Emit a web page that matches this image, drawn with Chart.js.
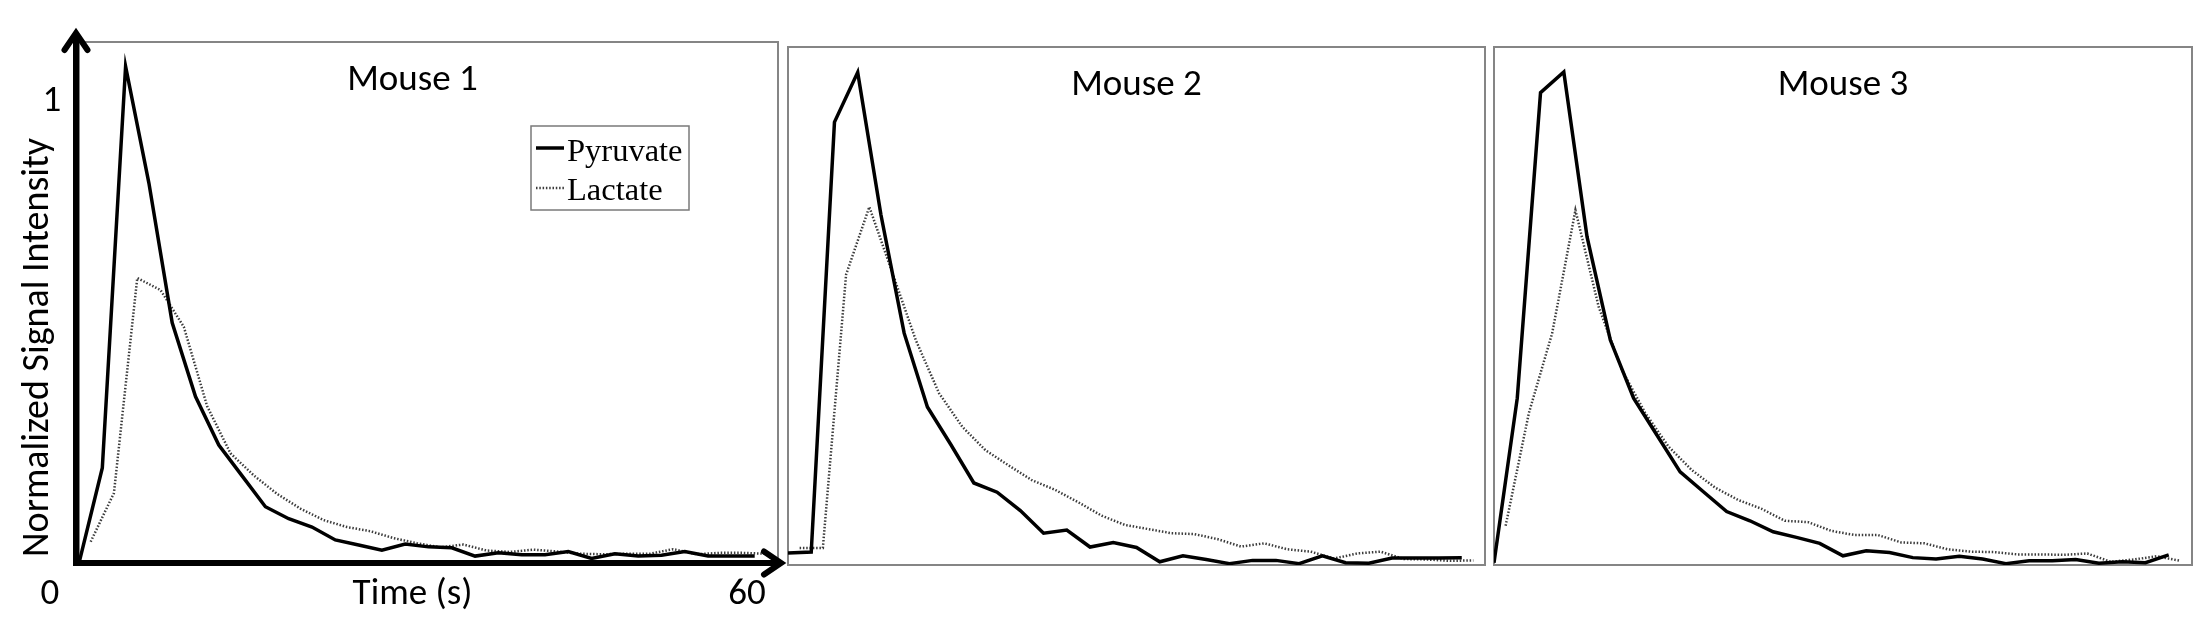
<!DOCTYPE html>
<html>
<head>
<meta charset="utf-8">
<script src="https://cdn.jsdelivr.net/npm/chart.js@4.4.1/dist/chart.umd.min.js"></script>
<style>
  html, body { margin: 0; padding: 0; background: #ffffff; width: 2196px; height: 640px; overflow: hidden; }
  canvas { position: absolute; left: 0; top: 0; }
</style>
</head>
<body>
<canvas id="panel1" width="2196" height="640"></canvas>
<canvas id="panel2" width="2196" height="640"></canvas>
<canvas id="panel3" width="2196" height="640"></canvas>
<script>
// ---------------- DATA ----------------
const panelTitles = ['Mouse 1', 'Mouse 2', 'Mouse 3'];
const seriesNames = ['Pyruvate', 'Lactate'];
const xAxisTitle = 'Time (s)';
const yAxisTitle = 'Normalized Signal Intensity';
const xTickLabels = ['0', '60'];
const xTickValues = [0, 60];
const yTickLabels = ['1'];
const yTickValues = [1];

const pyruvateTimes = [0, 2, 4, 6, 8, 10, 12, 14, 16, 18, 20, 22, 24, 26, 28, 30, 32, 34, 36, 38, 40, 42, 44, 46, 48, 50, 52, 54, 56, 58];
const lactateTimes  = [1, 3, 5, 7, 9, 11, 13, 15, 17, 19, 21, 23, 25, 27, 29, 31, 33, 35, 37, 39, 41, 43, 45, 47, 49, 51, 53, 55, 57, 59];

const mouse1Pyruvate = [0.000, 0.206, 1.077, 0.824, 0.521, 0.361, 0.256, 0.189, 0.122, 0.096, 0.078, 0.050, 0.039, 0.028, 0.041, 0.035, 0.033, 0.015, 0.022, 0.018, 0.018, 0.025, 0.010, 0.020, 0.015, 0.017, 0.025, 0.015, 0.015, 0.015];
const mouse1Lactate  = [0.046, 0.152, 0.618, 0.592, 0.512, 0.340, 0.238, 0.190, 0.150, 0.118, 0.093, 0.078, 0.069, 0.054, 0.043, 0.034, 0.040, 0.027, 0.024, 0.029, 0.025, 0.020, 0.019, 0.020, 0.020, 0.030, 0.019, 0.022, 0.022, 0.020];

const mouse2Pyruvate = [0.026, 0.028, 0.961, 1.069, 0.760, 0.503, 0.343, 0.262, 0.178, 0.158, 0.118, 0.069, 0.076, 0.039, 0.049, 0.038, 0.007, 0.020, 0.012, 0.003, 0.010, 0.010, 0.003, 0.020, 0.005, 0.004, 0.015, 0.015, 0.015, 0.016];
const mouse2Lactate  = [0.037, 0.037, 0.630, 0.777, 0.633, 0.488, 0.373, 0.300, 0.249, 0.216, 0.184, 0.163, 0.136, 0.107, 0.087, 0.078, 0.069, 0.067, 0.056, 0.040, 0.047, 0.034, 0.029, 0.014, 0.025, 0.029, 0.013, 0.012, 0.009, 0.010];

const mouse3Pyruvate = [0.005, 0.362, 1.025, 1.070, 0.712, 0.488, 0.362, 0.282, 0.202, 0.159, 0.116, 0.096, 0.072, 0.060, 0.047, 0.020, 0.031, 0.027, 0.016, 0.013, 0.019, 0.013, 0.003, 0.009, 0.009, 0.012, 0.004, 0.007, 0.005, 0.022];
const mouse3Lactate  = [0.085, 0.330, 0.503, 0.770, 0.560, 0.423, 0.330, 0.257, 0.206, 0.168, 0.141, 0.122, 0.096, 0.093, 0.074, 0.065, 0.065, 0.049, 0.047, 0.034, 0.029, 0.028, 0.023, 0.023, 0.022, 0.025, 0.007, 0.012, 0.019, 0.009];

// ---------------- LAYOUT / STYLE ----------------
const W = 2196, H = 640;
const panels = [
  { id: 'panel1', rect: { left: 79,   top: 42, right: 778,  bottom: 563 }, yMax: 1.13,  titleShift: -16, pyr: mouse1Pyruvate, lac: mouse1Lactate, decorated: true },
  { id: 'panel2', rect: { left: 788,  top: 47, right: 1485, bottom: 565 }, yMax: 1.124, titleShift: 0,   pyr: mouse2Pyruvate, lac: mouse2Lactate, decorated: false },
  { id: 'panel3', rect: { left: 1494, top: 47, right: 2192, bottom: 565 }, yMax: 1.124, titleShift: 0,   pyr: mouse3Pyruvate, lac: mouse3Lactate, decorated: false }
];
const SANS = 'Carlito, Lato, "Open Sans", sans-serif';
const SERIF = '"Liberation Serif", "Times New Roman", serif';

const framePlugin = {
  id: 'frame',
  beforeDatasetsDraw(chart, args, opts) {
    const a = chart.chartArea, ctx = chart.ctx;
    ctx.save();
    ctx.strokeStyle = '#858585';
    ctx.lineWidth = 2;
    ctx.strokeRect(a.left, a.top, a.right - a.left, a.bottom - a.top);
    ctx.restore();
  },
  afterDraw(chart, args, opts) {
    const a = chart.chartArea, ctx = chart.ctx;
    ctx.save();
    ctx.fillStyle = '#000';
    ctx.font = '37px ' + SANS;
    ctx.textAlign = 'center';
    ctx.textBaseline = 'middle';
    ctx.fillText(opts.title, (a.left + a.right) / 2 + opts.titleShift, a.top + 39);
    ctx.restore();
  }
};

const axesPlugin = {
  id: 'arrowAxes',
  afterDatasetsDraw(chart, args, opts) {
    if (!opts.enabled) return;
    const a = chart.chartArea, ctx = chart.ctx;
    const xs = chart.scales.x, ys = chart.scales.y;
    const axX = a.left - 3, axY = a.bottom;
    const tipY = a.top - 9, tipX = a.right + 3;
    ctx.save();
    ctx.strokeStyle = '#000';
    ctx.lineWidth = 6;
    ctx.lineJoin = 'miter';
    ctx.lineCap = 'butt';
    ctx.beginPath();
    ctx.moveTo(axX, tipY);
    ctx.lineTo(axX, axY);
    ctx.lineTo(tipX, axY);
    ctx.stroke();
    ctx.lineCap = 'round';
    ctx.beginPath();
    ctx.moveTo(axX - 11.5, tipY + 17);
    ctx.lineTo(axX, tipY);
    ctx.lineTo(axX + 11.5, tipY + 17);
    ctx.stroke();
    ctx.beginPath();
    ctx.moveTo(tipX - 17, axY - 11.5);
    ctx.lineTo(tipX, axY);
    ctx.lineTo(tipX - 17, axY + 11.5);
    ctx.stroke();

    // tick labels
    ctx.fillStyle = '#000';
    ctx.font = '37px ' + SANS;
    ctx.textAlign = 'center';
    ctx.textBaseline = 'middle';
    const xShift = [-29, -31];
    xTickLabels.forEach((lab, i) => {
      ctx.fillText(lab, xs.getPixelForValue(xTickValues[i]) + xShift[i], a.bottom + 32);
    });
    yTickLabels.forEach((lab, i) => {
      ctx.fillText(lab, a.left - 27, ys.getPixelForValue(yTickValues[i]));
    });
    // axis titles
    ctx.fillText(xAxisTitle, (a.left + a.right) / 2 - 16, a.bottom + 32);
    ctx.save();
    ctx.font = '38px ' + SANS;
    ctx.translate(a.left - 41, (a.top + a.bottom) / 2 + 45);
    ctx.rotate(-Math.PI / 2);
    ctx.fillText(yAxisTitle, 0, 0);
    ctx.restore();

    // legend box
    const bx = a.left + 452, by = a.top + 84, bw = 158, bh = 84;
    ctx.strokeStyle = '#7a7a7a';
    ctx.lineWidth = 1.5;
    ctx.strokeRect(bx, by, bw, bh);
    ctx.font = '32.5px ' + SERIF;
    ctx.textAlign = 'left';
    ctx.textBaseline = 'alphabetic';
    chart.data.datasets.forEach((ds, i) => {
      const ly = by + 22 + i * 40;
      ctx.save();
      ctx.strokeStyle = ds.borderColor;
      ctx.lineWidth = ds.borderWidth;
      ctx.lineCap = 'butt';
      ctx.setLineDash(ds.borderDash || []);
      ctx.beginPath();
      ctx.moveTo(bx + 5, ly);
      ctx.lineTo(bx + 33, ly);
      ctx.stroke();
      ctx.restore();
      ctx.fillStyle = '#000';
      ctx.fillText(ds.label, bx + 36, by + 35 + i * 39);
    });
    ctx.restore();
  }
};

panels.forEach((p, idx) => {
  const r = p.rect;
  new Chart(document.getElementById(p.id), {
    type: 'line',
    data: {
      datasets: [
        {
          label: seriesNames[0],
          data: pyruvateTimes.map((t, i) => ({ x: t, y: p.pyr[i] })),
          borderColor: '#000000',
          borderWidth: 3.5,
          pointRadius: 0,
          tension: 0,
          fill: false
        },
        {
          label: seriesNames[1],
          data: lactateTimes.map((t, i) => ({ x: t, y: p.lac[i] })),
          borderColor: '#3c3c3c',
          borderWidth: 2.5,
          borderDash: [1.5, 1.8],
          pointRadius: 0,
          tension: 0,
          fill: false
        }
      ]
    },
    options: {
      responsive: false,
      animation: false,
      devicePixelRatio: 1,
      events: [],
      layout: { padding: { left: r.left, top: r.top, right: W - r.right, bottom: H - r.bottom } },
      scales: {
        x: { type: 'linear', min: 0, max: 60, display: false },
        y: { type: 'linear', min: 0, max: p.yMax, display: false }
      },
      plugins: {
        legend: { display: false },
        tooltip: { enabled: false },
        frame: { title: panelTitles[idx], titleShift: p.titleShift },
        arrowAxes: { enabled: p.decorated }
      }
    },
    plugins: [framePlugin, axesPlugin]
  });
});
</script>
</body>
</html>
